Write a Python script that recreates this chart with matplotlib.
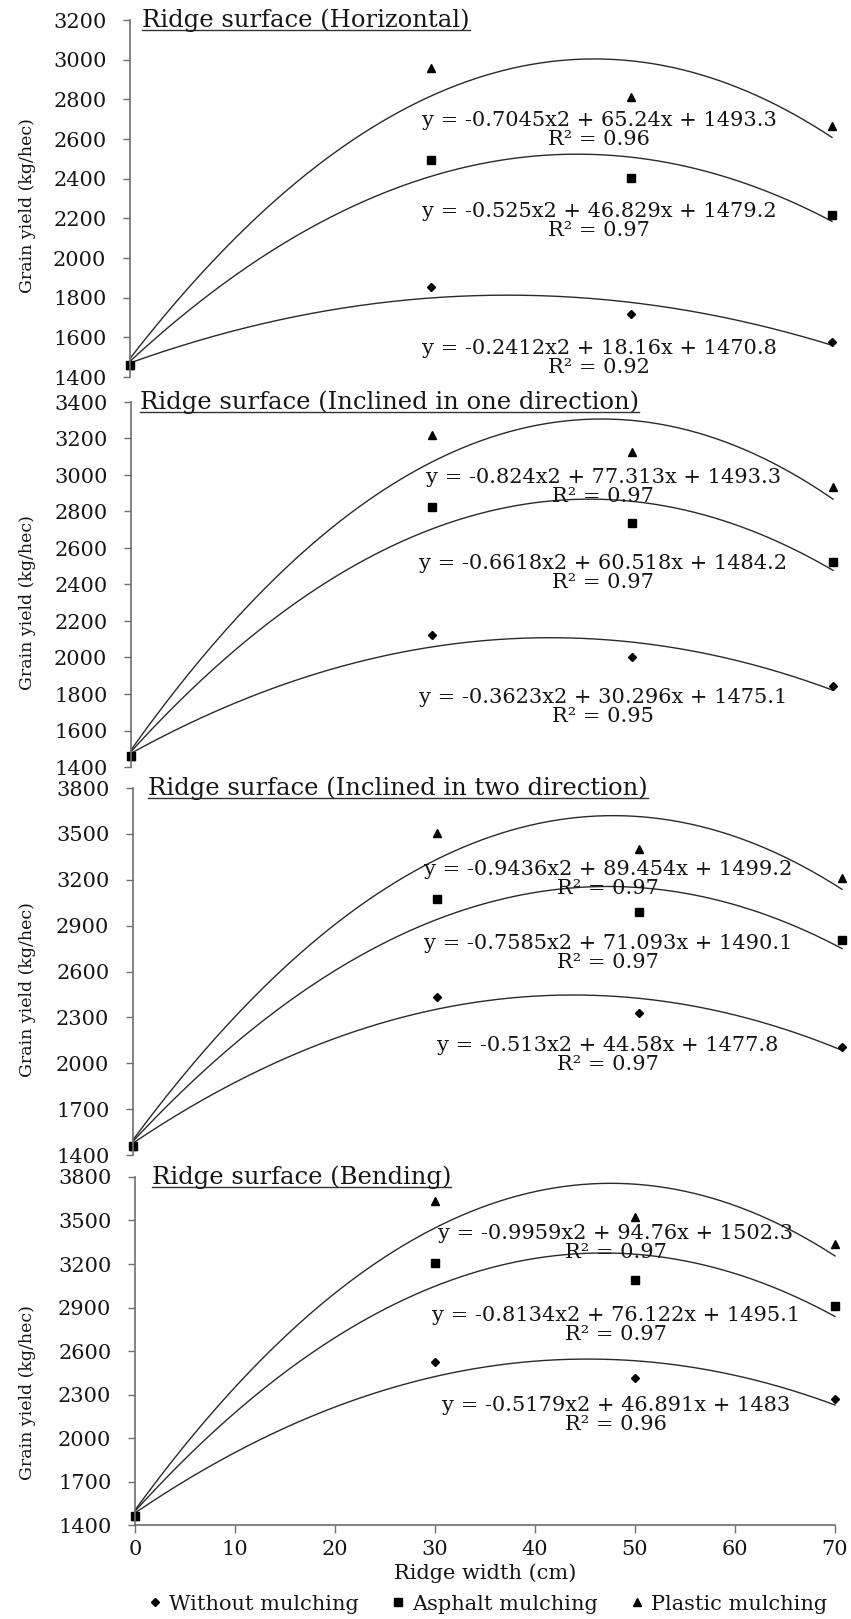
import numpy as np
import matplotlib
matplotlib.use("Agg")
import matplotlib.pyplot as plt
from matplotlib.lines import Line2D

plt.rcParams['font.family'] = ['DejaVu Serif']

# ---- data ----
ridge_width = [0, 30, 50, 70]
panel_titles = [
    'Ridge surface (Horizontal)',
    'Ridge surface (Inclined in one direction)',
    'Ridge surface (Inclined in two direction)',
    'Ridge surface (Bending)',
]
without_mulching = [
    [1460, 1854, 1718, 1576],
    [1460, 2125, 2004, 1845],
    [1460, 2433, 2329, 2106],
    [1460, 2524, 2414, 2269],
]
asphalt_mulching = [
    [1460, 2494, 2403, 2217],
    [1460, 2823, 2735, 2526],
    [1460, 3074, 2989, 2806],
    [1460, 3207, 3090, 2910],
]
plastic_mulching = [
    [1460, 2958, 2812, 2666],
    [1460, 3219, 3125, 2933],
    [1460, 3506, 3401, 3211],
    [1460, 3634, 3524, 3338],
]
# quadratic trendline coefficients (a, b, c) and R^2
fit_without = [(-0.2412, 18.16, 1470.8), (-0.3623, 30.296, 1475.1),
               (-0.513, 44.58, 1477.8), (-0.5179, 46.891, 1483)]
fit_asphalt = [(-0.525, 46.829, 1479.2), (-0.6618, 60.518, 1484.2),
               (-0.7585, 71.093, 1490.1), (-0.8134, 76.122, 1495.1)]
fit_plastic = [(-0.7045, 65.24, 1493.3), (-0.824, 77.313, 1493.3),
               (-0.9436, 89.454, 1499.2), (-0.9959, 94.76, 1502.3)]
r2_without = [0.92, 0.95, 0.97, 0.96]
r2_asphalt = [0.97, 0.97, 0.97, 0.97]
r2_plastic = [0.96, 0.97, 0.97, 0.97]
y_ticks = [
    np.arange(1400, 3201, 200),
    np.arange(1400, 3401, 200),
    np.arange(1400, 3801, 300),
    np.arange(1400, 3801, 300),
]
x_ticks = np.arange(0, 71, 10)

# ---- layout (pixels) ----
W, H = 851, 1619
# left, right, top, bottom of each plot area
boxes = [(130, 832, 20, 377), (131, 833, 402, 767),
         (133, 842, 788, 1155), (135, 835, 1177, 1525)]
title_x = [142, 140, 148, 152]
ylabel_frac = [0.48, 0.45, 0.45, 0.38]
# label centres (x, y_plastic, y_asphalt, y_without) in data units
eq_pos = [
    (46.8, 2645, 2187, 1498),
    (47.1, 2933, 2463, 1727),
    (46.9, 3205, 2721, 2054),
    (48.1, 3348, 2776, 2159),
]

fig = plt.figure(figsize=(W / 100, H / 100), dpi=100)
line_col = '#2a2a2a'
axis_col = '#6e6e6e'
text_col = '#151515'


def eq_text(coef, r2):
    a, b, c = coef
    return f'y = {a:g}x2 + {b:g}x + {c:g}\nR² = {r2:.2f}'


titles = []
xs = np.linspace(0, 70, 300)
for i in range(4):
    l, r, t, b = boxes[i]
    ax = fig.add_axes([l / W, 1 - b / H, (r - l) / W, (b - t) / H])
    ax.set_xlim(0, 70)
    ax.set_ylim(y_ticks[i][0], y_ticks[i][-1])

    for coef in (fit_plastic[i], fit_asphalt[i], fit_without[i]):
        ax.plot(xs, np.polyval(coef, xs), color=line_col, lw=1.0, clip_on=False)

    ax.plot(ridge_width, plastic_mulching[i], '^', color='k', ms=6, clip_on=False)
    ax.plot(ridge_width, without_mulching[i], 'D', color='k', ms=4.5, clip_on=False)
    ax.plot(ridge_width, asphalt_mulching[i], 's', color='k', ms=6, clip_on=False)

    ex, ey_p, ey_a, ey_w = eq_pos[i]
    for coef, r2, ey in ((fit_plastic[i], r2_plastic[i], ey_p),
                         (fit_asphalt[i], r2_asphalt[i], ey_a),
                         (fit_without[i], r2_without[i], ey_w)):
        ax.text(ex, ey, eq_text(coef, r2), ha='center', va='center',
                multialignment='center', fontsize=15, color=text_col,
                linespacing=1.0)

    for s in ('top', 'right'):
        ax.spines[s].set_visible(False)
    ax.spines['left'].set_color(axis_col)
    ax.spines['left'].set_linewidth(1.2)
    ax.set_yticks(y_ticks[i])
    ax.tick_params(axis='y', length=5, width=1, color=axis_col,
                   labelsize=15, labelcolor=text_col, pad=12)
    ax.set_ylabel('Grain yield (kg/hec)', fontsize=12.5, color=text_col)
    ax.yaxis.set_label_coords(-(l - 36) / (r - l), ylabel_frac[i])

    if i < 3:
        ax.spines['bottom'].set_visible(False)
        ax.set_xticks([])
    else:
        ax.spines['bottom'].set_color(axis_col)
        ax.spines['bottom'].set_linewidth(1.2)
        ax.set_xticks(x_ticks)
        ax.tick_params(axis='x', length=6, width=1, color=axis_col,
                       labelsize=15, labelcolor=text_col, pad=5)
        ax.set_xlabel('Ridge width (cm)', fontsize=15, color=text_col,
                      labelpad=3)

    tt = fig.text(title_x[i] / W, 1 - (t + 7) / H, panel_titles[i],
                  fontsize=17.5, va='baseline', ha='left', color=text_col)
    titles.append((tt, t + 7))

handles = [
    Line2D([], [], marker='D', ls='none', color='k', ms=4.5),
    Line2D([], [], marker='s', ls='none', color='k', ms=6),
    Line2D([], [], marker='^', ls='none', color='k', ms=6),
]
fig.legend(handles, ['Without mulching', 'Asphalt mulching', 'Plastic mulching'],
           loc='center', bbox_to_anchor=(488 / W, 1 - 1604 / H), ncol=3,
           frameon=False, fontsize=15, handlelength=0.6, handletextpad=0.35,
           columnspacing=1.6, labelcolor=text_col)

# underline the panel titles
fig.canvas.draw()
renderer = fig.canvas.get_renderer()
for tt, base in titles:
    bb = tt.get_window_extent(renderer)
    yline = 1 - (base + 3) / H
    fig.add_artist(Line2D([bb.x0 / W, bb.x1 / W], [yline, yline],
                          transform=fig.transFigure, color='#333333', lw=1.0))

fig.savefig('out.png', dpi=100)
